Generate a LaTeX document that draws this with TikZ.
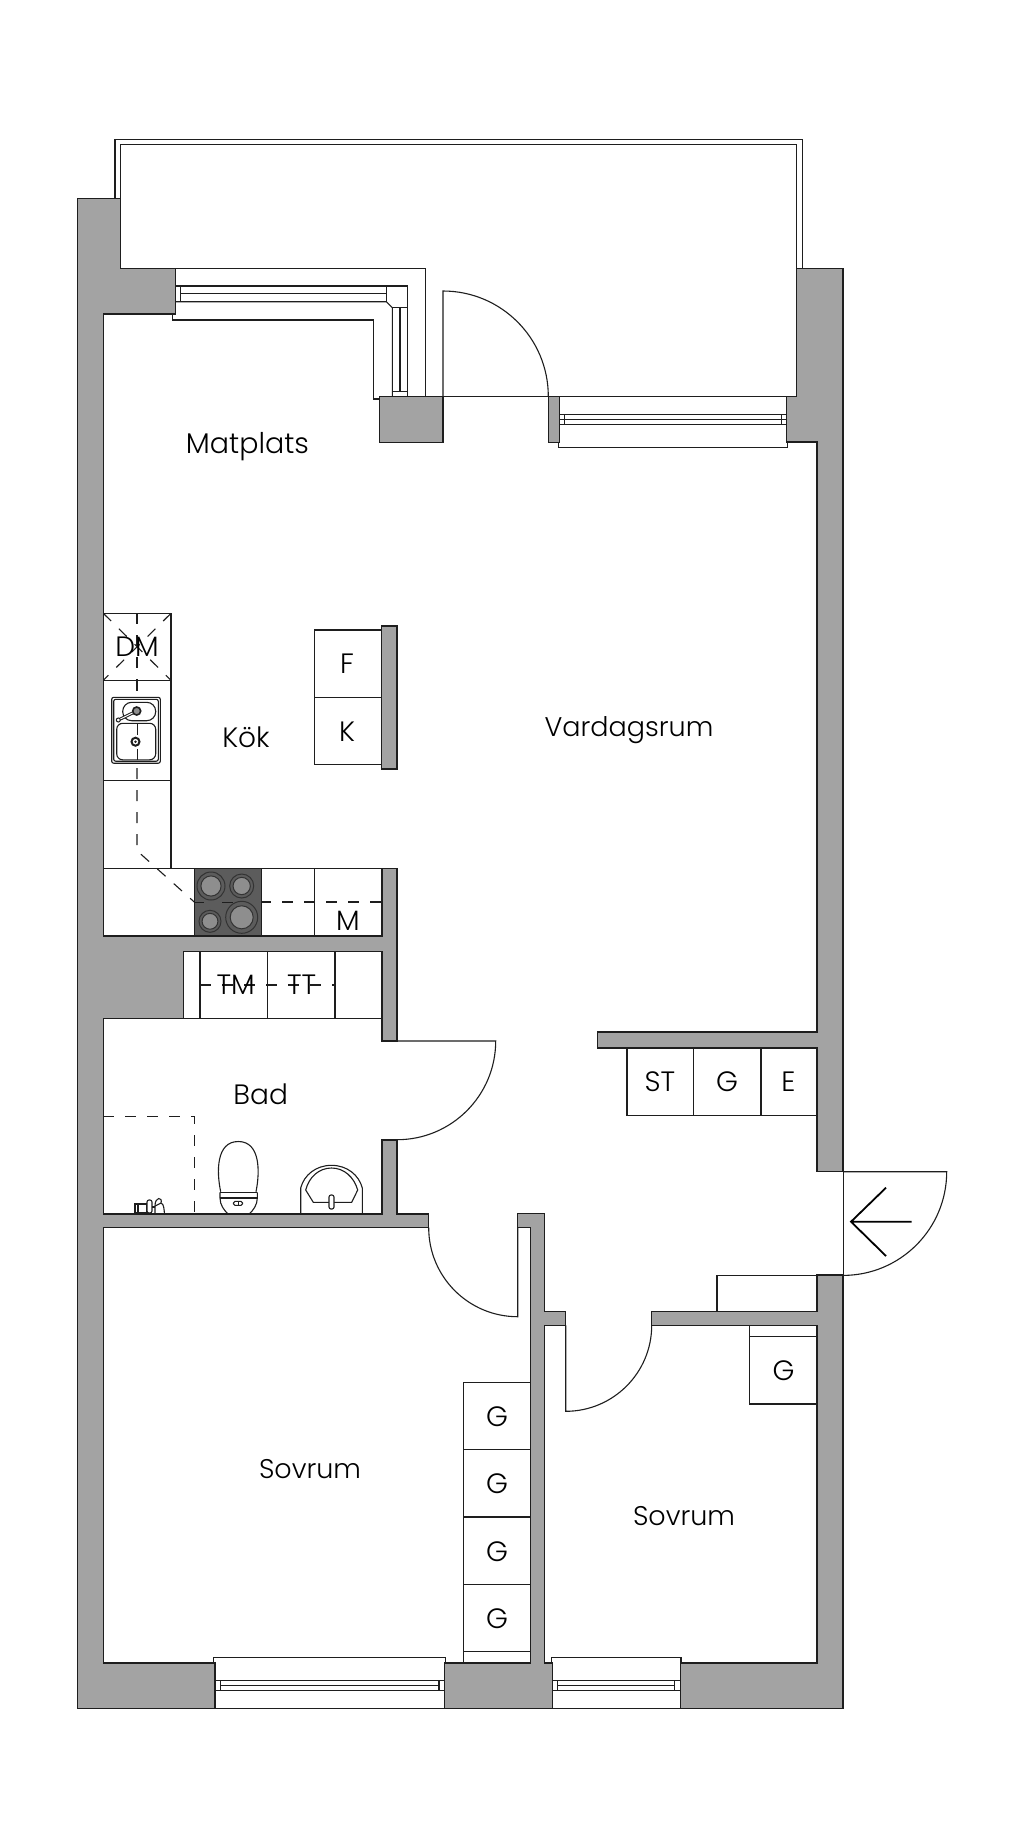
\documentclass[tikz,border=0pt]{standalone}
\usepackage{fontspec}
\setmainfont{Poppins Light}
\definecolor{wallgray}{HTML}{A3A3A3}
\definecolor{ink}{HTML}{1E1E1E}
\definecolor{hob}{HTML}{5C5C5C}
\definecolor{plate}{HTML}{8E8E8E}
\tikzset{
  wall/.style={fill=wallgray,draw=ink,line width=1.3pt,line join=miter},
  heavy/.style={draw=ink,line width=1.3pt,line join=miter},
  thin/.style={draw=ink,line width=1.1pt,line join=miter},
  hairline/.style={draw=ink,line width=.8pt},
  dashline/.style={draw=ink,line width=1.1pt,dash pattern=on 11pt off 11pt},
  lab/.style={inner sep=0pt,text=black,font=\fontsize{28}{30}\selectfont},
  room/.style={inner sep=0pt,text=black,font=\fontsize{27}{30}\selectfont},
  burner/.style={draw=black!80,line width=1pt,fill=none}
}
\begin{document}
\begin{tikzpicture}[x=1pt,y=-1pt]
\fill[white] (0,0) rectangle (1024,1848);
\useasboundingbox (0,0) rectangle (1024,1848);

% balcony
\draw[heavy] (115,198.7) -- (115,139.3) -- (802.3,139.3) -- (802.3,268.3);
\draw[heavy] (120.3,198.7) -- (120.3,144.3) -- (796.7,144.3) -- (796.7,396.3);
\draw[heavy] (175.3,268.3) -- (425.7,268.3) -- (425.7,396.3);
\draw[thin] (379.3,396.3) -- (796.7,396.3);

% corner window
\draw[thin] (175.3,286) -- (407.7,286) -- (407.7,396.3);
\draw[thin] (175.3,301.7) -- (386.3,301.7) -- (392.3,307.7) -- (392.3,396.3);
\draw[thin] (386.3,286) -- (386.3,301.7);
\draw[thin] (392.3,307.7) -- (407.7,307.7);
\draw[thin] (392.3,391.3) -- (407.7,391.3);
\draw[thin] (180.3,286) -- (180.3,301.7);
\draw[heavy] (180.3,293.7) -- (386.3,293.7);
\draw[thin] (400,307.7) -- (400,391.3);
\draw[heavy] (172.7,314) -- (172.7,320) -- (373.7,320) -- (373.7,399) -- (379.3,399);

% balcony door
\draw[thin] (443,396.3) -- (443,291) arc[start angle=90,end angle=0,radius=105.3pt];

% living-room window
\draw[heavy] (558.7,442.3) -- (558.7,447.7) -- (787.7,447.7) -- (787.7,442);
\draw[thin] (559.3,414.3) -- (786.3,414.3);
\draw[thin] (559.3,419.3) -- (786.3,419.3);
\draw[thin] (559.3,424.3) -- (786.3,424.3);
\draw[thin] (564.3,414.3) -- (564.3,424.3);
\draw[thin] (781.3,414.3) -- (781.3,424.3);

% bottom windows
\draw[heavy] (215,1663) -- (213.7,1663) -- (213.7,1657.3) -- (445.7,1657.3) -- (445.7,1663) -- (444.3,1663);
\draw[thin] (215,1680.7) -- (444.3,1680.7);
\draw[thin] (220.3,1685.7) -- (439,1685.7);
\draw[thin] (215,1690.7) -- (444.3,1690.7);
\draw[thin] (220.3,1680.7) -- (220.3,1690.7);
\draw[thin] (439,1680.7) -- (439,1690.7);
\draw[heavy] (215,1708.3) -- (444.3,1708.3);

\draw[heavy] (552.3,1663) -- (551.3,1663) -- (551.3,1657.3) -- (681,1657.3) -- (681,1663) -- (680.3,1663);
\draw[thin] (552.3,1680.7) -- (680.3,1680.7);
\draw[thin] (557.7,1685.7) -- (674.7,1685.7);
\draw[thin] (552.3,1690.7) -- (680.3,1690.7);
\draw[thin] (557.7,1680.7) -- (557.7,1690.7);
\draw[thin] (674.7,1680.7) -- (674.7,1690.7);
\draw[heavy] (552.3,1708.3) -- (680.3,1708.3);

% kitchen dashed line and counters
\draw[dashline] (137,680.3) -- (137,697);
\draw[dashline] (137,768) -- (137,850.7) -- (194.3,902);
\draw[dashline] (194.3,902) -- (382,902);
\draw[thin] (103.3,613.3) rectangle (171,680.3);
\draw[dashline] (137,613.3) -- (137,680.3);
\draw[dashline] (103.3,613.3) -- (171,680.3);
\draw[dashline] (171,613.3) -- (103.3,680.3);
\draw[thin] (103.3,680.3) -- (103.3,780.3);
\draw[thin] (103.3,780.3) -- (171,780.3);
\draw[thin] (171,680.3) -- (171,868.3);
\draw[thin] (103.3,868.3) -- (382,868.3);
\draw[thin] (314.3,868.3) -- (314.3,936);

% hob
\draw[fill=hob,draw=ink,line width=1pt] (194.3,868.3) rectangle (261.7,936);
\foreach \px/\py/\pr in {211/886/14,241.7/886/12,210/921.3/11,241.7/917.3/16}{
  \draw[burner] (\px,\py) circle[radius=\pr pt];
  \draw[burner,fill=plate] (\px,\py) circle[radius=0.72*\pr pt];
}
\draw[draw=ink,line width=1pt] (194.3,902) -- (204,902) (222,902) -- (233,902);

% sink
\draw[thin,rounded corners=2pt] (111.7,697.3) rectangle (160.3,763.2);
\draw[thin,rounded corners=2pt] (113.7,699.3) rectangle (158.3,761.2);
\draw[thin,rounded corners=9pt] (122.7,702.3) rectangle (155.7,720.7);
\draw[thin,rounded corners=6pt] (116.7,723.3) rectangle (155.7,759.8);
\draw[hairline] (137,723.3) -- (137,735) (137,749) -- (137,759.8);
\draw[draw=ink,line width=3pt] (118.3,720) -- (136.7,711);
\draw[draw=white,line width=1pt] (119.5,719.4) -- (133,712.8);
\draw[draw=ink,line width=1pt,fill=white] (118.3,720) circle[radius=2pt];
\draw[draw=ink,line width=1.6pt,fill=plate] (136.7,711) circle[radius=4pt];
\draw[draw=ink,line width=2pt,fill=white] (135.5,741.7) circle[radius=4pt];
\fill[ink] (135.5,741.7) circle[radius=1.3pt];

% fridge / freezer
\draw[thin] (381.7,630) -- (314.3,630) -- (314.3,764.7) -- (381.7,764.7);
\draw[thin] (314.3,697.3) -- (381.7,697.3);

% laundry cabinets
\draw[dashline] (200,985) -- (335,985);
\draw[thin] (200,951.3) -- (200,1018.7);
\draw[thin] (267.3,951.3) -- (267.3,1018.7);
\draw[thin] (335,951.3) -- (335,1018.7);
\draw[thin] (183.3,1018.7) -- (382,1018.7);

% bath
\draw[dashline] (103.3,1116.3) -- (194.3,1116.3) -- (194.3,1214);
\draw[thin] (220.7,1191.7) .. controls (216.5,1172) and (216,1141.5) .. (238.3,1141.5)
   .. controls (260.5,1141.5) and (260,1172) .. (256,1191.7);
\draw[thin] (220,1192.3) -- (257.3,1192.3);
\draw[thin] (220,1198) -- (257.3,1198);
\draw[thin] (220,1192.3) -- (220,1198) .. controls (220,1205) and (224,1210) .. (228,1214);
\draw[thin] (257.3,1192.3) -- (257.3,1198) .. controls (257.3,1205) and (253.3,1210) .. (249.3,1214);
\draw[thin,rounded corners=1.5pt] (233.5,1201.3) rectangle (242.5,1205.3);
\draw[hairline] (238,1201.3) -- (238,1205.3);
\draw[thin] (300.7,1214) -- (300.7,1188) .. controls (304,1175) and (316,1165.3) .. (331.5,1165.3)
   .. controls (347,1165.3) and (359,1175) .. (362.3,1188) -- (362.3,1214);
\draw[thin] (305.7,1190) .. controls (309,1177) and (319,1168) .. (331.5,1168)
   .. controls (344,1168) and (354,1177) .. (357.7,1190) -- (351.7,1202.3) -- (313.3,1202.3) -- cycle;
\draw[thin,fill=white,rounded corners=2pt] (329,1195) rectangle (334,1209);
% shower mixer
\draw[thin] (135,1204) rectangle (147,1213);
\draw[thin] (138,1204) -- (138,1213);
\draw[thin,fill=white,rounded corners=2pt] (147,1200) rectangle (152,1213);
\draw[thin,fill=white] (155,1206) .. controls (155,1196) and (163,1197) .. (161,1203)
   .. controls (164,1204) and (164,1209) .. (164.5,1214) -- (155,1214) -- cycle;
\draw[thin] (152,1207) -- (155,1207);
\draw[thin] (155,1206) -- (161,1203);

% doors
\draw[thin] (382,1041) -- (495.7,1041) arc[start angle=0,end angle=-90,radius=98.7pt] -- (382,1139.7);
\draw[thin] (428.7,1227.7) arc[start angle=180,end angle=270,radius=89pt] -- (517.7,1227.3);
\draw[thin] (651.7,1325.3) arc[start angle=0,end angle=-90,radius=86pt] -- (565.7,1325.3);
\draw[thin] (843,1171.7) -- (946.7,1171.7) arc[start angle=0,end angle=-90,radius=103.7pt] -- (817,1275.4);
\draw[hairline] (843,1171.7) -- (843,1275.4);
\draw[draw=black,line width=1.8pt,line join=miter] (886,1187.7) -- (851,1221.7) -- (886,1256) (851,1221.7) -- (911.7,1221.7);

% hall and bedroom cabinets
\draw[thin] (627,1048) -- (627,1115.3) -- (817,1115.3);
\draw[thin] (693.3,1048) -- (693.3,1115.3);
\draw[thin] (761,1048) -- (761,1115.3);
\draw[thin] (817,1275.7) -- (717,1275.7) -- (717,1311.7);
\draw[thin] (749.7,1325.3) -- (749.7,1404) -- (817,1404);
\draw[thin] (749.7,1336.7) -- (817,1336.7);
\draw[thin] (463.7,1663) -- (463.7,1382.3) -- (530.7,1382.3);
\foreach \gy in {1449.7,1517,1584.3,1651.7}{\draw[thin] (463.7,\gy) -- (530.7,\gy);}

% walls
\draw[wall] (77.3,198.7) -- (120.3,198.7) -- (120.3,268.3) -- (175.3,268.3) -- (175.3,314) -- (103.3,314) -- (103.3,936) -- (382,936) -- (382,868.3) -- (397,868.3) -- (397,1041) -- (382,1041) -- (382,951.3) -- (183.3,951.3) -- (183.3,1018.7) -- (103.3,1018.7) -- (103.3,1214) -- (382,1214) -- (382,1140) -- (397,1140) -- (397,1214) -- (428.7,1214) -- (428.7,1227.7) -- (103.3,1227.7) -- (103.3,1663) -- (215,1663) -- (215,1708.3) -- (77.3,1708.3) -- cycle;
\draw[wall] (444.3,1663) -- (530.7,1663) -- (530.7,1227.3) -- (517.7,1227.3) -- (517.7,1213.7) -- (544.3,1213.7) -- (544.3,1311.7) -- (565.7,1311.7) -- (565.7,1325.3) -- (544.3,1325.3) -- (544.3,1663) -- (552.3,1663) -- (552.3,1708.3) -- (444.3,1708.3) -- cycle;
\draw[wall] (796.7,268.3) -- (843,268.3) -- (843,1171.7) -- (817,1171.7) -- (817,1048) -- (597.3,1048) -- (597.3,1032) -- (817,1032) -- (817,442) -- (786.3,442) -- (786.3,396.3) -- (796.7,396.3) -- cycle;
\draw[wall] (817,1275) -- (843,1275) -- (843,1708.3) -- (680.3,1708.3) -- (680.3,1663) -- (817,1663) -- (817,1325.3) -- (651.7,1325.3) -- (651.7,1311.7) -- (817,1311.7) -- cycle;
\draw[wall] (379.3,396.3) rectangle (443,442.3);
\draw[wall] (548.3,396.3) rectangle (559.3,442.3);
\draw[wall] (381.7,626) rectangle (397,769);

% labels
\node[lab,font=\fontsize{28.5}{30}\selectfont] (matplats) at (247.5,446.5) {Matplats};
\node[lab] (kok) at (246,737) {Kök};
\node[room] (vardagsrum) at (629,730) {Vardagsrum};
\node[lab] (bad) at (260.7,1094) {Bad};
\node[room] (sovrumA) at (310,1469) {Sovrum};
\node[room] (sovrumB) at (684,1516) {Sovrum};
\node[lab] (dm) at (137,647) {DM};
\node[lab] (f) at (347,663.5) {F};
\node[lab] (k) at (347,731.5) {K};
\node[lab] (m) at (348,920.5) {M};
\node[lab] (tm) at (235.7,985) {TM};
\node[lab] (tt) at (301.7,985) {TT};
\node[lab] (st) at (660,1082) {ST};
\node[lab] (gh) at (727,1082) {G};
\node[lab] (e) at (788.3,1082) {E};
\node[lab] (gc) at (783.5,1371) {G};
\node[lab] (ga) at (497,1416.5) {G};
\node[lab] (gb) at (497,1484) {G};
\node[lab] (gd) at (497,1551.5) {G};
\node[lab] (ge) at (497,1619) {G};
\end{tikzpicture}
\end{document}
